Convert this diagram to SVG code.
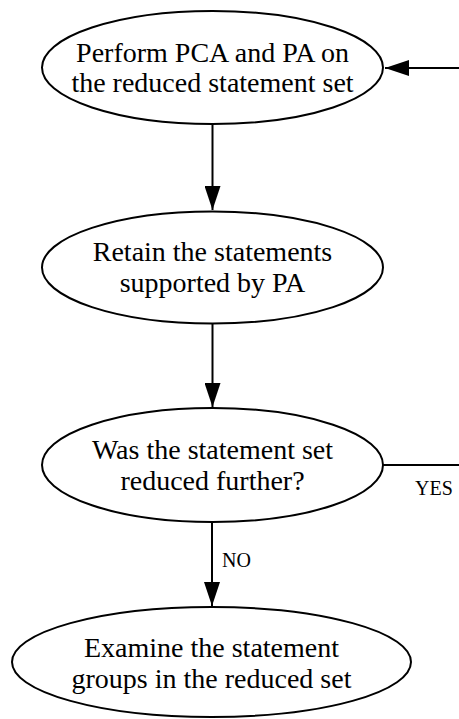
<svg xmlns="http://www.w3.org/2000/svg" width="459" height="719" viewBox="0 0 459 719">
  <style>
    .node ellipse { fill: #ffffff; stroke: #000000; stroke-width: 2; }
    .node text { font-family: "Liberation Serif", "Times New Roman", serif; font-size: 28px; fill: #000000; text-anchor: middle; }
    .edge { fill: none; stroke: #000000; stroke-width: 2; }
    .label { font-family: "Liberation Serif", "Times New Roman", serif; font-size: 20px; fill: #000000; }
  </style>
  <defs>
    <marker id="arrow" viewBox="0 0 24 16" refX="24" refY="8" markerWidth="24" markerHeight="16" markerUnits="userSpaceOnUse" orient="auto">
      <path d="M0,0 L24,8 L0,16 Z" fill="#000000"/>
    </marker>
  </defs>

  <rect width="459" height="719" fill="#ffffff"/>

  <!-- connectors -->
  <g id="connectors">
    <line class="edge" x1="212.5" y1="125" x2="212.5" y2="210" marker-end="url(#arrow)"/>
    <line class="edge" x1="212.5" y1="324" x2="212.5" y2="407" marker-end="url(#arrow)"/>
    <line class="edge" x1="212" y1="523" x2="212" y2="606" marker-end="url(#arrow)"/>
    <line class="edge" x1="383" y1="465" x2="459" y2="465"/>
    <line class="edge" x1="459" y1="68" x2="385" y2="68" marker-end="url(#arrow)"/>
    <text class="label" x="222" y="567">NO</text>
    <text class="label" x="415" y="495">YES</text>
  </g>

  <!-- nodes -->
  <g id="perform-pca" class="node">
    <ellipse cx="212.5" cy="67.5" rx="170.5" ry="56.5"/>
    <text x="212.5" y="61.5">Perform PCA and PA on</text>
    <text x="212.5" y="92">the reduced statement set</text>
  </g>

  <g id="retain-statements" class="node">
    <ellipse cx="212.5" cy="267.5" rx="170.5" ry="56"/>
    <text x="212.5" y="261">Retain the statements</text>
    <text x="212.5" y="291.5">supported by PA</text>
  </g>

  <g id="reduced-further" class="node">
    <ellipse cx="212.5" cy="465" rx="170.5" ry="57"/>
    <text x="212.5" y="458.5">Was the statement set</text>
    <text x="212.5" y="490">reduced further?</text>
  </g>

  <g id="examine-groups" class="node">
    <ellipse cx="211.5" cy="662" rx="199.5" ry="55"/>
    <text x="211.5" y="657">Examine the statement</text>
    <text x="211.5" y="688">groups in the reduced set</text>
  </g>
</svg>
